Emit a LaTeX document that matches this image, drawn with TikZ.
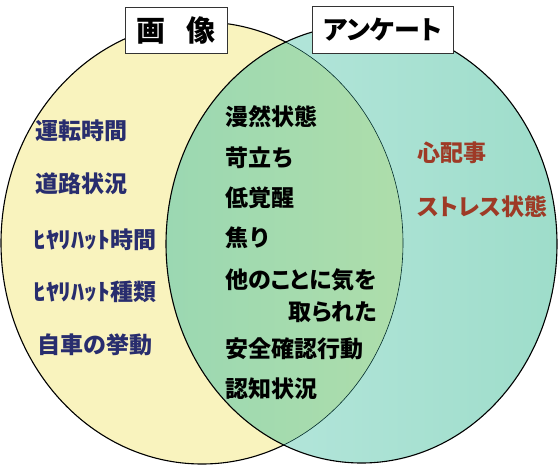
\documentclass[tikz,border=0pt]{standalone}
\usepackage{fontspec}
\usepackage{tikz}
\usepackage{xcolor}
\newfontfamily\jpfont{Noto Sans CJK JP}
\newfontfamily\jppfont{Noto Sans CJK JP}[RawFeature=+palt]
\definecolor{gazoblue}{RGB}{40,45,110}
\definecolor{ankred}{RGB}{158,58,38}
\definecolor{gazoyellow}{RGB}{249,243,190}
\definecolor{ankteal}{RGB}{158,221,202}
\definecolor{anktealL}{RGB}{186,232,224}
\definecolor{lensL}{RGB}{155,216,178}
\definecolor{lensR}{RGB}{186,225,166}

\begin{document}
\begin{tikzpicture}[x=1pt,y=-1pt,line cap=round,
  gazo/.style={anchor=west,inner sep=0pt,text=gazoblue,font=\jpfont\bfseries\fontsize{23}{32}\selectfont},
  both/.style={anchor=west,inner sep=0pt,text=black,font=\jpfont\bfseries\fontsize{23}{32}\selectfont},
  ank/.style={anchor=west,inner sep=0pt,text=ankred,font=\jppfont\bfseries\fontsize{23}{30}\selectfont},
  titlebox/.style={draw=black!80,fill=white,line width=0.8pt,inner sep=0pt}]
\useasboundingbox (0,0) rectangle (559,472);
\coordinate (gazoc) at (202,243);
\coordinate (ankc) at (361.5,244);
\fill[gazoyellow] (gazoc) ellipse [x radius=201,y radius=221];
\draw[black,line width=1.1pt] (gazoc) ellipse [x radius=201,y radius=221];
\shade[left color=anktealL,right color=ankteal] (ankc) ellipse [x radius=195.5,y radius=219];
\begin{scope}
\clip (gazoc) ellipse [x radius=201,y radius=221];
\shade[left color=lensL,right color=lensR] (ankc) ellipse [x radius=195.5,y radius=219];
\end{scope}
\begin{scope}
\clip (ankc) ellipse [x radius=195.5,y radius=219];
\draw[black!45!teal!60!black,line width=0.6pt] (gazoc) ellipse [x radius=201,y radius=221];
\end{scope}
\draw[black,line width=1.1pt] (ankc) ellipse [x radius=195.5,y radius=219];
\node[titlebox,minimum width=102pt,minimum height=46pt,font=\jpfont\bfseries\fontsize{29}{32}\selectfont] (gazo) at (176,30) {画\hspace{0.7em}像};
\node[titlebox,minimum width=141pt,minimum height=47pt,font=\jppfont\bfseries\fontsize{26}{30}\selectfont] (anketo) at (382.5,29.5) {アンケート};
\node[gazo] (unten) at (35,131) {運転時間};
\node[gazo] (doro) at (35,184) {道路状況};
\node[gazo] (hhjikan) at (33,240) {\scalebox{1.12}[1]{ﾋﾔﾘﾊｯﾄ}時間};
\node[gazo] (hhshurui) at (33,292) {\scalebox{1.12}[1]{ﾋﾔﾘﾊｯﾄ}種類};
\node[gazo] (kyodo) at (37,345) {自車の挙動};
\node[both] (manzen) at (225,117) {漫然状態};
\node[both] (iradachi) at (225,158) {苛立ち};
\node[both] (teikakusei) at (225,198) {低覚醒};
\node[both] (aseri) at (225,238) {焦り};
\node[both,align=right,font=\jppfont\bfseries\fontsize{23}{32}\selectfont] (kiwo) at (225,296) {他のことに気を\\取られた};
\node[both] (kakunin) at (225,349) {安全確認行動};
\node[both] (ninchi) at (225,389) {認知状況};
\node[ank] (shinpai) at (417,153) {心配事};
\node[ank] (stress) at (417,207) {ストレス状態};
\end{tikzpicture}
\end{document}
